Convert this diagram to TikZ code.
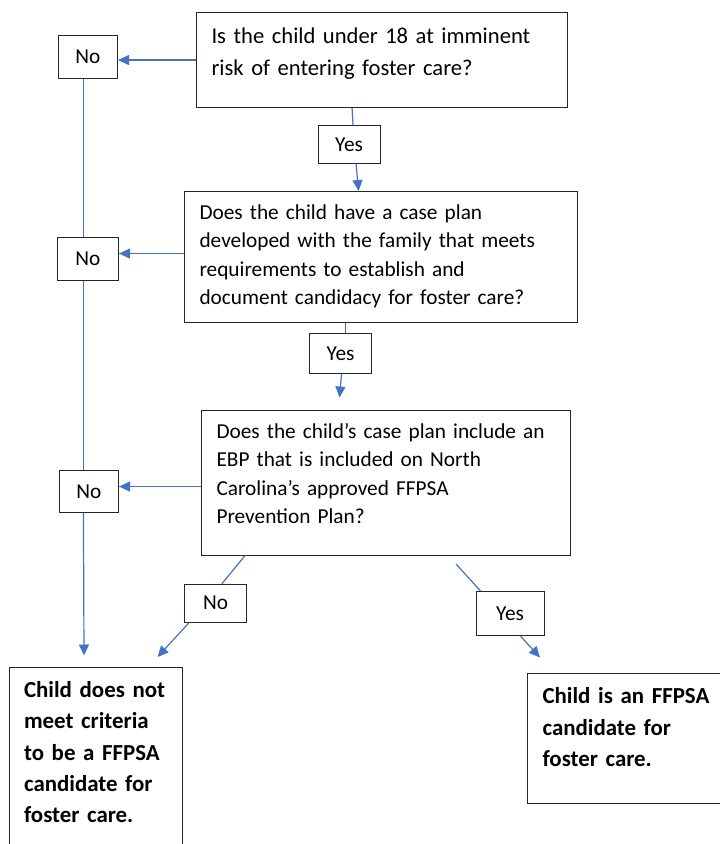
\documentclass[tikz,border=0pt]{standalone}
\usepackage{fontspec}
\setmainfont{Carlito}
\usetikzlibrary{positioning,arrows.meta}

\definecolor{linkblue}{HTML}{4472C4}
\definecolor{boxline}{HTML}{262626}

\newcommand{\qfont}{\fontsize{21.3}{28.4}\selectfont}
\newcommand{\qbigfont}{\fontsize{22.6}{32}\selectfont}
\newcommand{\ofont}{\fontsize{22.9}{31.4}\selectfont\bfseries}

\tikzset{
  question/.style 2 args={draw=boxline, line width=1.1pt, anchor=north west,
    inner sep=0pt, font=\qfont,
    execute at begin node={\leftskip=15pt\relax\rule{0pt}{#1}},
    execute at end node={\rule[-#2]{0pt}{#2}}},
  outcome/.style 2 args={question={#1}{#2}, font=\ofont},
  answer/.style={draw=boxline, line width=1.1pt, inner sep=0pt, font=\qfont},
  link/.style={draw=linkblue, line width=1.2pt},
  flow/.style={link, -{Triangle[length=11pt,width=10pt]}}
}

\begin{document}
\begin{tikzpicture}[x=1pt,y=-1pt]
      \useasboundingbox (0,0) rectangle (720,844);
      % Define nodes
      \node[question={30.5pt}{32.5pt}, font=\qbigfont, text width=371pt] (q1) at (196,12)
        {Is the child under 18 at imminent\\risk of entering foster care?};
      \node[question={28pt}{17.8pt}, text width=393pt] (q2) at (184,191)
        {Does the child have a case plan\\developed with the family that meets\\requirements to establish and\\document candidacy for foster care?};
      \node[question={28.5pt}{31.3pt}, text width=369pt] (q3) at (201,409.5)
        {Does the child’s case plan include an\\EBP that is included on North\\Carolina’s approved FFPSA\\Prevention Plan?};
      \node[outcome={30.2pt}{40pt}, text width=173pt] (notcand) at (8.5,666.5)
        {Child does not\\meet criteria\\to be a FFPSA\\candidate for\\foster care.};
      \node[outcome={30.3pt}{37.2pt}, text width=196pt] (cand) at (527,673)
        {Child is an FFPSA\\candidate for\\foster care.};
      \node[answer, left=78pt of q1.west, yshift=3pt, minimum width=59pt, minimum height=43pt] (no1) {No};
      \node[answer, left=65pt of q2.west, yshift=-2pt, minimum width=61pt, minimum height=43pt] (no2) {No};
      \node[answer, left=82pt of q3.west, yshift=-9pt, minimum width=59pt, minimum height=42pt] (no3) {No};
      \node[answer, below=17pt of q1.south, xshift=-33pt, minimum width=62pt, minimum height=38pt] (yes1) {Yes};
      \node[answer, below=10pt of q2.south, xshift=-40.5pt, minimum width=62pt, minimum height=40pt] (yes2) {Yes};
      \node[answer, below=28pt of q3.south west, xshift=14.5pt, minimum width=62pt, minimum height=38pt] (no4) {No};
      \node[answer, below=35.5pt of q3.south east, xshift=-61pt, minimum width=68pt, minimum height=44pt] (yes3) {Yes};
      % Connect nodes
      \draw[flow] (q1.west) -- ([yshift=-3pt]no1.east);
      \draw[flow] ([yshift=3.5pt]q2.west) -- ([yshift=5.5pt]no2.east);
      \draw[flow] ([yshift=-4pt]q3.west) -- ([yshift=5pt]no3.east);
      \draw[link] ([xshift=-4.5pt]no1.south) -- ([xshift=-4.5pt]no2.north);
      \draw[link] ([xshift=-4.5pt]no2.south) -- ([xshift=-5.5pt]no3.north);
      \draw[flow] ([xshift=-5.5pt]no3.south) -- ([xshift=75.5pt,yshift=11pt]notcand.north west);
      \draw[link] ([xshift=-30pt]q1.south) -- ([xshift=4pt]yes1.north);
      \draw[flow] ([xshift=7pt]yes1.south) -- ([xshift=-22.5pt]q2.north);
      \draw[link] ([xshift=-35.5pt]q2.south) -- ([xshift=5pt]yes2.north);
      \draw[flow] ([xshift=1pt]yes2.south) -- ([xshift=138.5pt,yshift=12pt]q3.north west);
      \draw[link] ([xshift=44pt]q3.south west) -- ([xshift=6.5pt]no4.north);
      \draw[flow] ([xshift=-26.5pt]no4.south) -- ([xshift=149pt,yshift=9.5pt]notcand.north west);
      \draw[link] ([xshift=-115pt,yshift=-8.5pt]q3.south east) -- ([xshift=-29.5pt]yes3.north);
      \draw[flow] ([xshift=10.5pt]yes3.south) -- ([xshift=13pt,yshift=15.5pt]cand.north west);
\end{tikzpicture}
\end{document}
